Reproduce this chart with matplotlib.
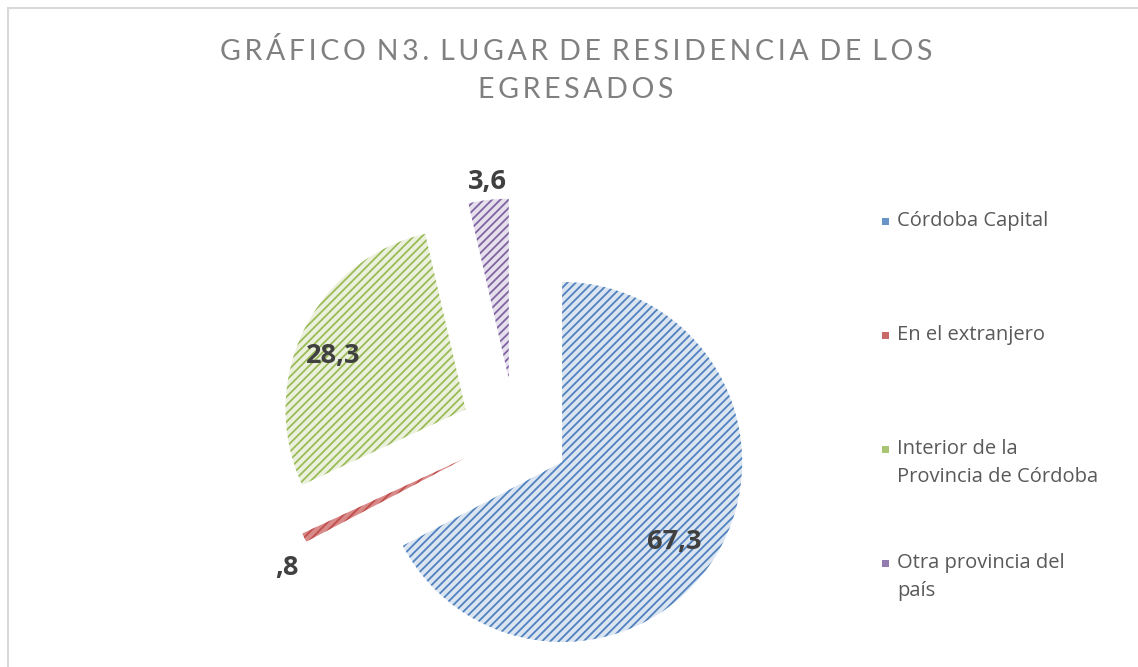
import matplotlib.pyplot as plt
from matplotlib.patches import Rectangle

# data
categories = ["Córdoba Capital", "En el extranjero",
              "Interior de la\nProvincia de Córdoba", "Otra provincia del\npaís"]
values = [67.3, 0.8, 28.3, 3.6]
value_labels = ["67,3", ",8", "28,3", "3,6"]

hatch_colors = ["#4f81bd", "#c0504d", "#9bbb59", "#8064a2"]
fill_colors = ["#dbe5f1", "#d88a88", "#ebf1dd", "#e5e0ec"]

W, H = 1138, 667
plt.rcParams['hatch.linewidth'] = 1.3
fig = plt.figure(figsize=(W / 100, H / 100), dpi=100)
ax = fig.add_axes([0, 0, 1, 1])

# pie center in pixels and radius
cx, cy, R = 515, 433.5, 180
wedges, _ = ax.pie(values, startangle=90, counterclock=False,
                   explode=[0.306] * 4, radius=1,
                   colors=fill_colors, labels=None)
for w, hc in zip(wedges, hatch_colors):
    w.set_hatch("////")
    w.set_edgecolor(hc)
    w.set_linewidth(0)

ax.set_aspect('auto')
ax.set_xlim(-cx / R, (W - cx) / R)
ax.set_ylim(-(H - cy) / R, cy / R)
ax.axis('off')

font = ['Open Sans', 'DejaVu Sans']

# data labels (pixel positions of label centers)
lab_px = [(674, 542), (287, 568), (333, 356), (487, 182)]
for (px, py), txt in zip(lab_px, value_labels):
    ax.text((px - cx) / R, (cy - py) / R, txt, ha='center', va='center',
            fontsize=19.5, fontweight='bold', color='#404040', family=font)

# title with letter spacing
title_lines = ["GRÁFICO N3. LUGAR DE RESIDENCIA DE LOS", "EGRESADOS"]
for i, line in enumerate(title_lines):
    spaced = "\u2009 ".join("\u2009".join(word) for word in line.split(" "))
    fig.text(576 / W, 1 - (52 + 38 * i) / H, spaced, ha='center', va='center',
             fontsize=20.5, color='#808080', family=['Lato', 'DejaVu Sans'])

# legend
leg_y = [221, 335, 449, 563]
for y, cat, hc in zip(leg_y, categories, hatch_colors):
    fig.patches.append(Rectangle((882 / W, 1 - (y + 4) / H), 7 / W, 7 / H,
                                 transform=fig.transFigure, facecolor=hc,
                                 edgecolor='none', alpha=0.85))
    fig.text(897 / W, 1 - (y - 10) / H, cat, ha='left', va='top',
             fontsize=14.5, color='#595959', family=font, linespacing=1.55)

# chart border
fig.patches.append(Rectangle((7.5 / W, -0.1), 1.2, 1 - 7.5 / H + 0.1,
                             transform=fig.transFigure, facecolor='none',
                             edgecolor='#d9d9d9', linewidth=1.5))

fig.savefig("out.png", dpi=100, facecolor='white')
